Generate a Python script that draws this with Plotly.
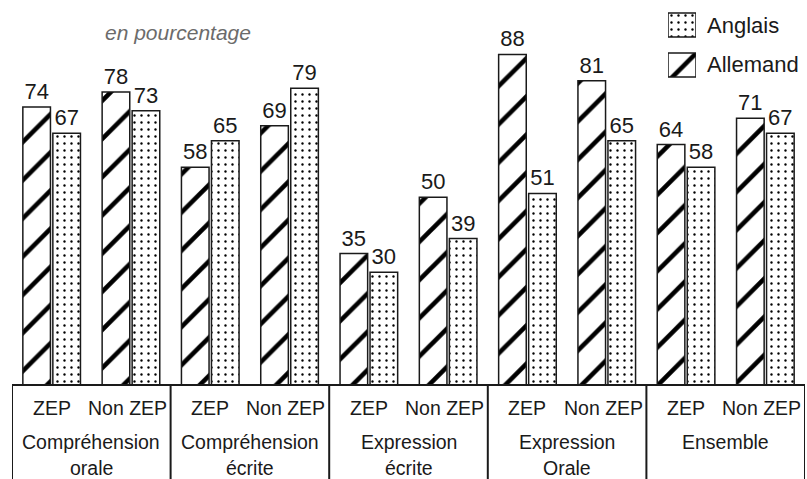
import plotly.graph_objects as go

# Scores (en pourcentage) by domain, for ZEP / Non ZEP schools
domains = ["Compréhension\norale", "Compréhension\nécrite", "Expression\nécrite",
           "Expression\nOrale", "Ensemble"]
zones = ["ZEP", "Non ZEP"]
allemand = [74, 78, 58, 69, 35, 50, 88, 81, 64, 71]
anglais = [67, 73, 65, 79, 30, 39, 51, 65, 58, 67]
legend_names = ["Anglais", "Allemand"]

W, H = 807, 479
ML, MR, MT, MB = 12, 2, 0, 94
plot_h = H - MT - MB
plot_w = W - ML - MR

FONT = "Liberation Sans, Arial, Helvetica, sans-serif"
INK = "#1a1a1a"

positions = list(range(len(allemand)))

hatch = dict(shape="/", fgcolor="black", fgopacity=1, bgcolor="white",
             size=27, solidity=0.17)
dots = dict(shape=".", fgcolor="black", fgopacity=1, bgcolor="white",
            size=7, solidity=0.09)

fig = go.Figure()
fig.add_trace(go.Bar(
    x=positions, y=allemand, name="Allemand",
    marker=dict(color="white", pattern=hatch, line=dict(color=INK, width=1.5)),
    text=allemand, textposition="outside", texttemplate="%{y}",
    textfont=dict(family=FONT, size=22, color=INK),
    cliponaxis=False, showlegend=False,
))
fig.add_trace(go.Bar(
    x=positions, y=anglais, name="Anglais",
    marker=dict(color="white", pattern=dots, line=dict(color=INK, width=1.5)),
    text=anglais, textposition="outside", texttemplate="%{y}",
    textfont=dict(family=FONT, size=22, color=INK),
    cliponaxis=False, showlegend=False,
))

# Legend swatches drawn as small bars on an inset axis
sw_fill = {"Anglais": dots, "Allemand": hatch}
for i, nm in enumerate(["Allemand", "Anglais"]):
    fig.add_trace(go.Bar(
        x=[1], y=[i], base=[0], orientation="h", width=0.6,
        marker=dict(color="white", pattern=sw_fill[nm], line=dict(color=INK, width=1.5)),
        xaxis="x2", yaxis="y2", showlegend=False, hoverinfo="skip",
    ))


def px_x(px):
    return (px - ML) / plot_w


def px_y(py):
    return (H - MB - py) / plot_h


annotations = []
# legend labels
for nm, py in zip(legend_names, [25, 65]):
    annotations.append(dict(
        text=nm, xref="paper", yref="paper", x=px_x(705), y=px_y(py),
        xanchor="left", yanchor="middle", showarrow=False,
        font=dict(family=FONT, size=22, color=INK),
    ))

# unit note
annotations.append(dict(
    text="<i>en pourcentage</i>", xref="paper", yref="paper",
    x=px_x(103), y=px_y(32), xanchor="left", yanchor="middle", showarrow=False,
    font=dict(family=FONT, size=21, color="#6b6b6b"),
))

# table under the bars: zone labels and domain names
for p in positions:
    annotations.append(dict(
        text=zones[p % 2], xref="x", yref="paper", x=p - (0.045 if p % 2 else 0),
        y=px_y(408), xanchor="center", yanchor="middle", showarrow=False,
        font=dict(family=FONT, size=19.5, color=INK),
    ))
for d, name in enumerate(domains):
    for k, line in enumerate(name.split("\n")):
        annotations.append(dict(
            text=line, xref="x", yref="paper", x=2 * d + 0.5,
            y=px_y(442 + 26 * k), xanchor="center", yanchor="middle",
            showarrow=False, font=dict(family=FONT, size=19.5, color=INK),
        ))

shapes = [dict(type="line", xref="x", yref="paper", x0=-0.5, x1=len(positions) - 0.5,
               y0=0, y1=0, line=dict(color=INK, width=2))]
for b in range(len(domains) + 1):
    xb = 2 * b - 0.5
    shapes.append(dict(type="line", xref="x", yref="paper", x0=xb, x1=xb,
                       y0=0, y1=px_y(H + 5), line=dict(color=INK, width=2)))

fig.update_layout(
    width=W, height=H, autosize=False,
    margin=dict(l=ML, r=MR, t=MT, b=MB),
    paper_bgcolor="white", plot_bgcolor="white",
    barmode="group", bargap=0.243, bargroupgap=0.08,
    xaxis=dict(range=[-0.5, len(positions) - 0.5], visible=False, fixedrange=True),
    yaxis=dict(range=[0, 102.5], visible=False, fixedrange=True),
    xaxis2=dict(domain=[px_x(668), px_x(696)], range=[0, 1], visible=False,
                anchor="y2", fixedrange=True),
    yaxis2=dict(domain=[px_y(85), px_y(5)], range=[-0.5, 1.5], visible=False,
                anchor="x2", fixedrange=True),
    annotations=annotations, shapes=shapes,
    showlegend=False,
)

fig.write_html("out.html")
